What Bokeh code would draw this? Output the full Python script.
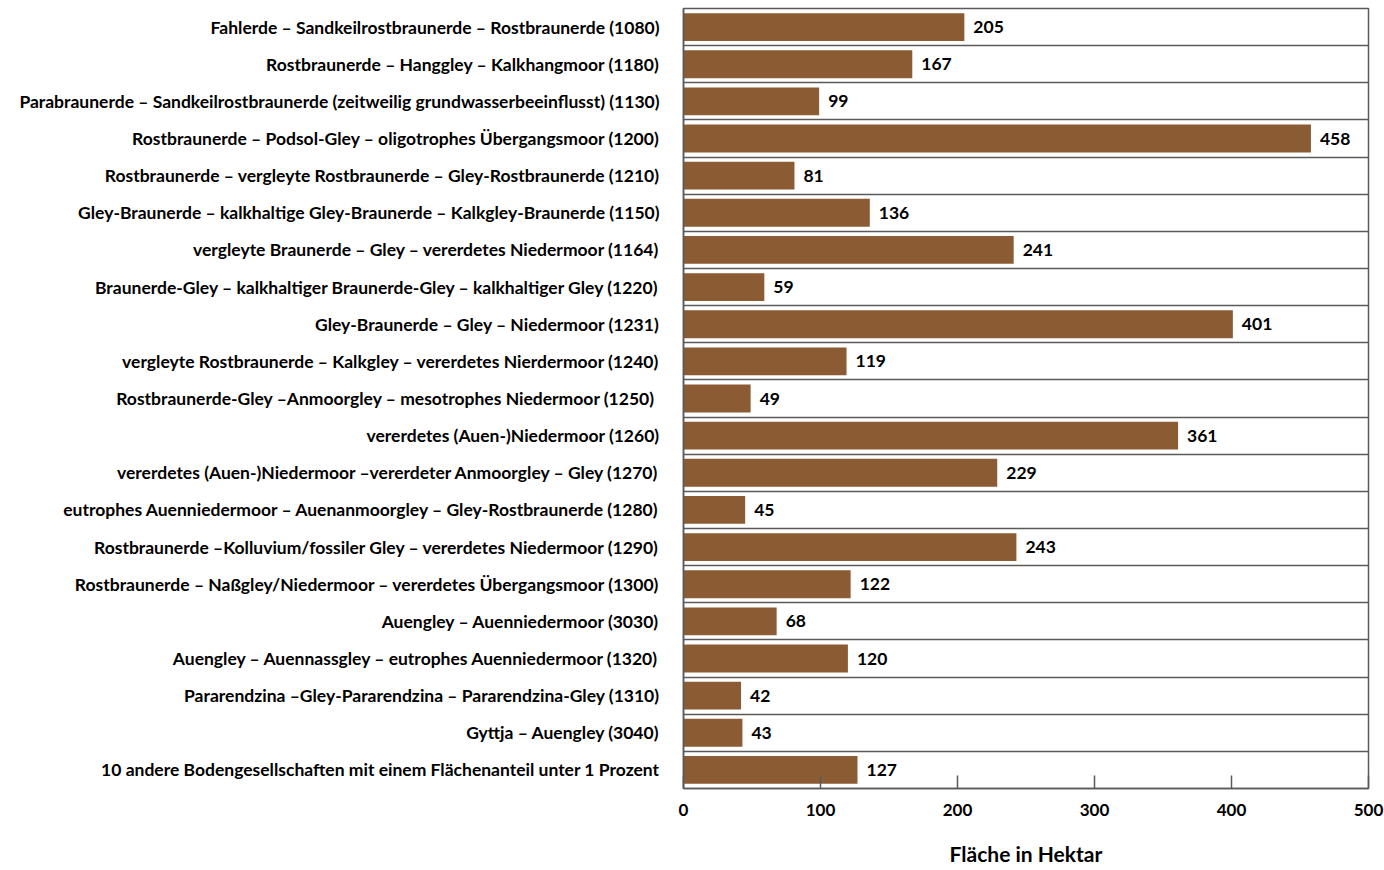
from bokeh.plotting import figure
from bokeh.models import ColumnDataSource, Range1d, FixedTicker
from bokeh.core.properties import value
from bokeh.embed import file_html
from bokeh.resources import INLINE

# Soil associations (top to bottom) and their area in hectares
soil_units = [
    "Fahlerde – Sandkeilrostbraunerde – Rostbraunerde (1080)",
    "Rostbraunerde – Hanggley – Kalkhangmoor (1180)",
    "Parabraunerde – Sandkeilrostbraunerde (zeitweilig grundwasserbeeinflusst) (1130)",
    "Rostbraunerde – Podsol-Gley – oligotrophes Übergangsmoor (1200)",
    "Rostbraunerde – vergleyte Rostbraunerde – Gley-Rostbraunerde (1210)",
    "Gley-Braunerde – kalkhaltige Gley-Braunerde – Kalkgley-Braunerde (1150)",
    "vergleyte Braunerde – Gley – vererdetes Niedermoor (1164)",
    "Braunerde-Gley – kalkhaltiger Braunerde-Gley – kalkhaltiger Gley (1220)",
    "Gley-Braunerde – Gley – Niedermoor (1231)",
    "vergleyte Rostbraunerde – Kalkgley – vererdetes Nierdermoor (1240)",
    "Rostbraunerde-Gley –Anmoorgley –  mesotrophes Niedermoor (1250)",
    "vererdetes (Auen-)Niedermoor (1260)",
    "vererdetes (Auen-)Niedermoor –vererdeter Anmoorgley – Gley (1270)",
    "eutrophes Auenniedermoor – Auenanmoorgley – Gley-Rostbraunerde (1280)",
    "Rostbraunerde –Kolluvium/fossiler Gley – vererdetes Niedermoor (1290)",
    "Rostbraunerde – Naßgley/Niedermoor – vererdetes Übergangsmoor (1300)",
    "Auengley – Auenniedermoor (3030)",
    "Auengley – Auennassgley – eutrophes Auenniedermoor (1320)",
    "Pararendzina –Gley-Pararendzina – Pararendzina-Gley (1310)",
    "Gyttja – Auengley (3040)",
    "10 andere Bodengesellschaften mit einem Flächenanteil unter 1 Prozent",
]
area_ha = [205, 167, 99, 458, 81, 136, 241, 59, 401, 119, 49,
           361, 229, 45, 243, 122, 68, 120, 42, 43, 127]
x_ticks = [0, 100, 200, 300, 400, 500]

FONT = "Lato"
BAR = "#8B5C34"
LINE = "#5a5a5a"

n = len(soil_units)
row_pos = [i + 0.5 for i in range(n)]
source = ColumnDataSource(dict(
    y=row_pos,
    area=area_ha,
    label=[str(v) for v in area_ha],
))

p = figure(
    width=1384, height=870,
    x_range=Range1d(0, 500),
    y_range=Range1d(n, 0),
    output_backend="svg",
    toolbar_location=None,
    min_border_left=683, min_border_right=16,
    min_border_top=8, min_border_bottom=82,
)

p.hbar(y="y", left=0, right="area", height=0.75, source=source,
       fill_color=BAR, line_color=None)

# value next to each bar
p.text(x="area", y="y", text="label", source=source,
       x_offset=9, text_baseline="middle", text_align="left",
       text_font=value(FONT), text_font_style="bold",
       text_font_size="17.5px", text_color="black")

# x axis
p.xaxis.ticker = FixedTicker(ticks=x_ticks)
p.xaxis.axis_label = "Fläche in Hektar"
p.xaxis.axis_label_text_font = FONT
p.xaxis.axis_label_text_font_style = "bold"
p.xaxis.axis_label_text_font_size = "21px"
p.xaxis.axis_label_text_color = "black"
p.xaxis.axis_label_standoff = 22
p.xaxis.major_label_text_font = FONT
p.xaxis.major_label_text_font_style = "bold"
p.xaxis.major_label_text_font_size = "17px"
p.xaxis.major_label_text_color = "black"
p.xaxis.major_label_standoff = 15
p.xaxis.major_tick_in = 13
p.xaxis.major_tick_out = 0
p.xaxis.minor_tick_line_color = None
p.xaxis.axis_line_color = LINE
p.xaxis.axis_line_width = 1.5
p.xaxis.major_tick_line_color = LINE
p.xaxis.major_tick_line_width = 1.5

# y axis with category names at row centers
p.yaxis.ticker = FixedTicker(ticks=row_pos)
p.yaxis.major_label_overrides = {r: s for r, s in zip(row_pos, soil_units)}
p.yaxis.major_label_text_font = FONT
p.yaxis.major_label_text_font_style = "bold"
p.yaxis.major_label_text_font_size = "17.5px"
p.yaxis.major_label_text_color = "black"
p.yaxis.major_label_standoff = 18
p.yaxis.major_tick_line_color = None
p.yaxis.minor_tick_line_color = None
p.yaxis.axis_line_color = LINE
p.yaxis.axis_line_width = 1.5

# separators between rows
p.xgrid.grid_line_color = None
p.ygrid.ticker = FixedTicker(ticks=list(range(1, n)))
p.ygrid.grid_line_color = LINE
p.ygrid.grid_line_width = 1.5

p.outline_line_color = LINE
p.outline_line_width = 1.5
p.background_fill_color = "white"
p.border_fill_color = "white"

open("out.html", "w").write(file_html(p, INLINE))
